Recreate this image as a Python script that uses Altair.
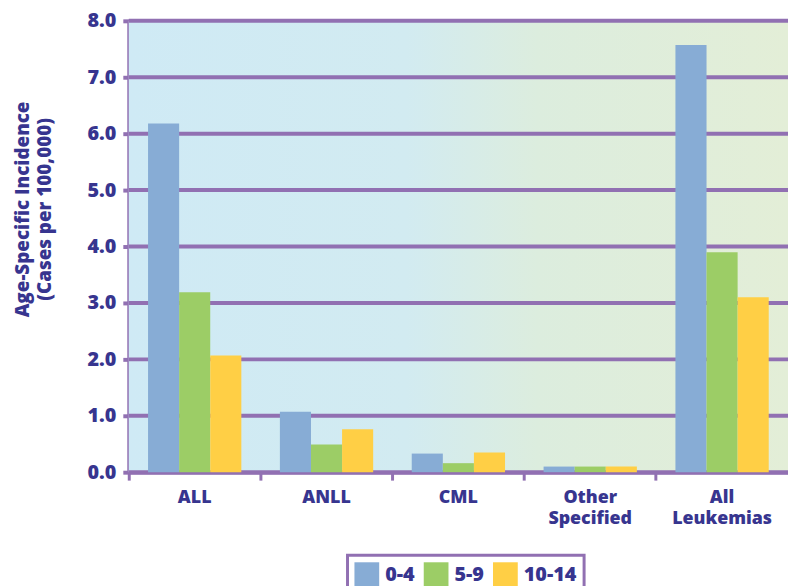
import altair as alt
import pandas as pd

categories = ["ALL", "ANLL", "CML", "Other|Specified", "All|Leukemias"]
ages = ["0-4", "5-9", "10-14"]
vals_0_4 = [6.18, 1.07, 0.33, 0.10, 7.57]
vals_5_9 = [3.19, 0.49, 0.16, 0.10, 3.90]
vals_10_14 = [2.07, 0.76, 0.35, 0.10, 3.10]
colors = ["#87acd5", "#9ccd66", "#ffcf45"]
y_ticks = [0, 1, 2, 3, 4, 5, 6, 7, 8]

rows = []
for series, vals in zip(ages, [vals_0_4, vals_5_9, vals_10_14]):
    for c, v in zip(categories, vals):
        rows.append({"cat": c, "age": series, "value": v})
df = pd.DataFrame(rows)

W, H = 666, 456
PURPLE = "#9170b2"
NAVY = "#37358f"
FONT = "Open Sans"
WEIGHT = 800

bg = alt.Chart(pd.DataFrame({"a": [0]})).mark_rect(
    color=alt.Gradient(
        gradient="linear", x1=0, x2=1, y1=0, y2=0,
        stops=[
            alt.GradientStop(color="#cfeaf5", offset=0),
            alt.GradientStop(color="#d2ebf1", offset=0.42),
            alt.GradientStop(color="#dcedde", offset=0.62),
            alt.GradientStop(color="#e3eed7", offset=1),
        ],
    )
).encode(x=alt.value(0), x2=alt.value(W), y=alt.value(0), y2=alt.value(H))

grid = alt.Chart(pd.DataFrame({"t": y_ticks})).mark_rule(
    color=PURPLE, strokeWidth=4
).encode(y=alt.Y("t:Q", scale=alt.Scale(domain=[0, 8])))

bars = alt.Chart(df).mark_bar().encode(
    x=alt.X("cat:N", sort=categories,
            scale=alt.Scale(paddingInner=0, paddingOuter=0),
            axis=alt.Axis(title=None, labelAngle=0, bandPosition=0,
                          labelExpr="split(datum.label, '|')",
                          labelFont=FONT, labelFontSize=18, labelFontWeight=WEIGHT,
                          labelColor=NAVY, labelLineHeight=21, labelPadding=9,
                          labelBaseline="top",
                          domainColor=PURPLE, domainWidth=4,
                          tickColor=PURPLE, tickWidth=3, tickSize=8)),
    xOffset=alt.XOffset("age:N", sort=ages,
                        scale=alt.Scale(paddingInner=0, paddingOuter=0.62)),
    y=alt.Y("value:Q", scale=alt.Scale(domain=[0, 8], nice=False),
            axis=alt.Axis(title=["Age-Specific Incidence", "(Cases per 100,000)"],
                          values=y_ticks, format=".1f", grid=False,
                          labelFont=FONT, labelFontSize=20, labelFontWeight=WEIGHT,
                          labelColor=NAVY, labelPadding=7,
                          titleFont=FONT, titleFontSize=19, titleFontWeight=WEIGHT,
                          titleColor=NAVY, titleLineHeight=22,
                          titleX=-97, titleY=190, titleBaseline="bottom",
                          domainColor=PURPLE, domainWidth=4,
                          tickColor=PURPLE, tickWidth=4, tickSize=6)),
    color=alt.Color("age:N", sort=ages,
                    scale=alt.Scale(domain=ages, range=colors),
                    legend=alt.Legend(title=None, orient="none", direction="horizontal",
                                      legendX=221, legendY=540,
                                      symbolType="square", symbolSize=625,
                                      symbolStrokeWidth=0, symbolOpacity=1,
                                      labelFont=FONT, labelFontSize=20,
                                      labelFontWeight=WEIGHT, labelColor=NAVY,
                                      labelOffset=6,
                                      columnPadding=9, padding=7,
                                      strokeColor=PURPLE, fillColor="white")),
)

chart = alt.layer(bg, grid, bars).properties(
    width=W, height=H,
    autosize=alt.AutoSizeParams(type="none"),
    padding={"left": 122, "top": 10, "right": 0, "bottom": 112},
).configure_view(stroke=None).configure_legend(strokeWidth=3)

chart.save("out.html", embed_options={"renderer": "svg", "actions": False})
